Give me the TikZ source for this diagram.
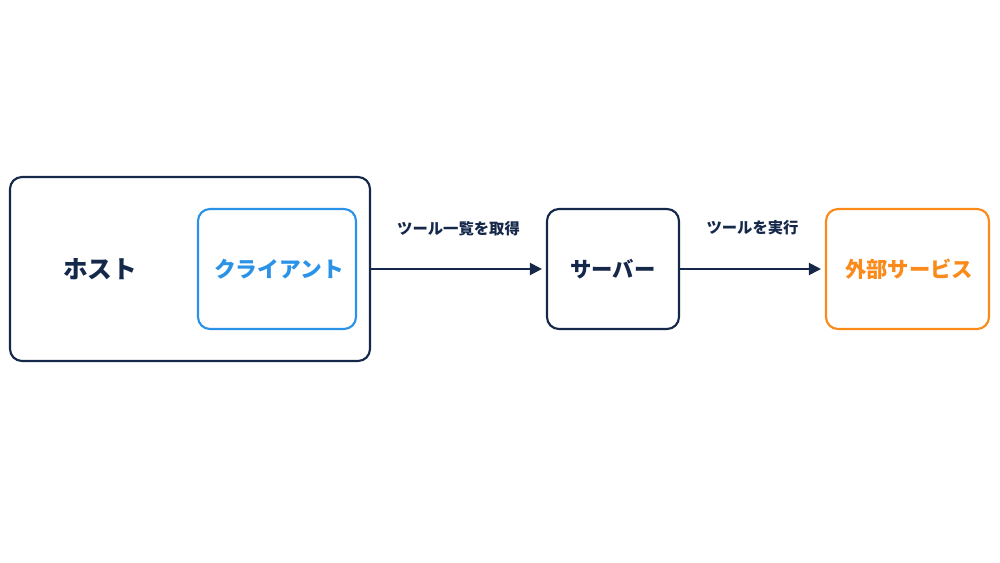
\documentclass[tikz,border=0pt]{standalone}
\usepackage{fontspec}
\newfontfamily\cjk{Noto Sans CJK JP}
\usetikzlibrary{arrows.meta}
\definecolor{navy}{HTML}{15284A}
\definecolor{cblue}{HTML}{2A93E8}
\definecolor{corange}{HTML}{FA8A1A}
\tikzset{
  box/.style={draw=navy, line width=1.6pt, rounded corners=9pt, inner sep=0pt},
  maintext/.style={font=\cjk\bfseries\fontsize{16}{18}\selectfont, text=navy},
  lbl/.style={font=\cjk\bfseries\fontsize{11.5}{13}\selectfont, text=navy},
  conn/.style={draw=navy, line width=1.6pt, -{Triangle[length=9pt,width=9pt]}, shorten >=3pt}
}
\begin{document}
\begin{tikzpicture}[x=0.75pt,y=-0.75pt]
\useasboundingbox (0,0) rectangle (1000,563);
\fill[white] (0,0) rectangle (1000,563);
% host
\node[box, minimum width=360*0.75pt, minimum height=184*0.75pt] (host) at (190,269) {};
\node[maintext, font=\cjk\bfseries\fontsize{18.5}{20}\selectfont] (hostt) at (100,269) {ホスト};
\node[box, draw=cblue, minimum width=158*0.75pt, minimum height=120*0.75pt] (client) at (277,269) {};
\node[maintext, text=cblue, font=\cjk\bfseries\fontsize{16.3}{18}\selectfont] (clientt) at (279,269) {クライアント};
% server
\node[box, minimum width=132*0.75pt, minimum height=120*0.75pt] (server) at (613,269) {};
\node[maintext] (servert) at (613,269) {サーバー};
% external
\node[box, draw=corange, minimum width=163*0.75pt, minimum height=120*0.75pt] (ext) at (907.5,269) {};
\node[maintext, text=corange] (extt) at (909,269) {外部サービス};
% connectors
\draw[conn] (host.east) -- (server.west) node[midway, lbl, above=21pt] (l1) {ツール一覧を取得};
\draw[conn] (server.east) -- (ext.west) node[midway, lbl, above=21pt] (l2) {ツールを実行};
\end{tikzpicture}
\end{document}
